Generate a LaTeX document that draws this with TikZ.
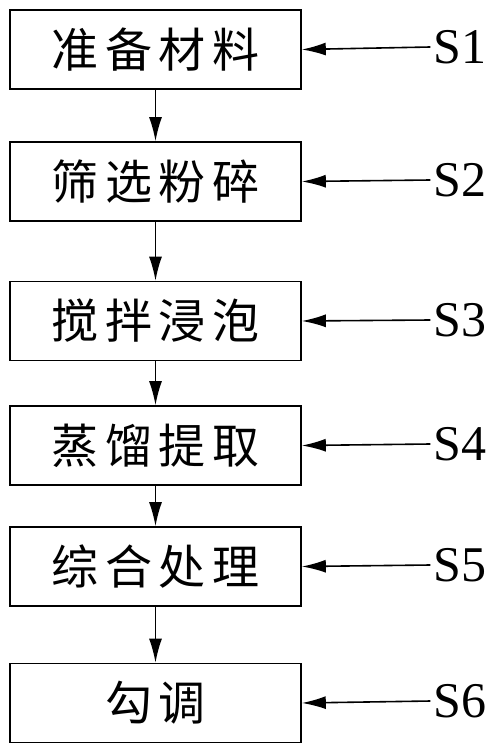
\documentclass[tikz,border=0pt]{standalone}
\usepackage{fontspec}
\setmainfont{Liberation Serif}
\newfontfamily\cjk[LetterSpace=14]{Noto Sans CJK SC}
\usetikzlibrary{arrows.meta}
\tikzset{
  stepbox/.style={draw, line width=1.6pt, minimum width=291pt, minimum height=79pt,
    inner sep=0pt, font=\cjk\fontsize{47}{47}\selectfont},
  steptag/.style={inner sep=0pt, font=\fontsize{50}{50}\selectfont},
  link/.style={line width=1.6pt, -{Latex[length=24pt,width=13pt]}}
}
\begin{document}
\begin{tikzpicture}[x=1pt,y=-1pt]
      \useasboundingbox (0,0) rectangle (500,754);
      \node[stepbox] (prep) at (155.5,49.5) {准备材料};
      \node[stepbox] (sieve) at (155.5,181.5) {筛选粉碎};
      \node[stepbox] (soak) at (155.5,321) {搅拌浸泡};
      \node[stepbox] (distil) at (155.5,445.5) {蒸馏提取};
      \node[stepbox] (treat) at (155.5,566.5) {综合处理};
      \node[stepbox] (blend) at (155.5,703) {勾调};
      \node[steptag] (s1) at (460,47) {S1};
      \node[steptag] (s2) at (460,180) {S2};
      \node[steptag] (s3) at (460,320) {S3};
      \node[steptag] (s4) at (460,444) {S4};
      \node[steptag] (s5) at (460,565) {S5};
      \node[steptag] (s6) at (460,701) {S6};
      \begin{scope}[link]
        \draw (prep) to (sieve);
        \draw (sieve) to (soak);
        \draw (soak) to (distil);
        \draw (distil) to (treat);
        \draw (treat) to (blend);
        \draw (s1.west) ++(-3,0) to (prep.east);
        \draw (s2.west) ++(-3,0) to (sieve.east);
        \draw (s3.west) ++(-3,0) to (soak.east);
        \draw (s4.west) ++(-3,0) to (distil.east);
        \draw (s5.west) ++(-3,0) to (treat.east);
        \draw (s6.west) ++(-3,0) to (blend.east);
      \end{scope}
    \end{tikzpicture}
\end{document}
